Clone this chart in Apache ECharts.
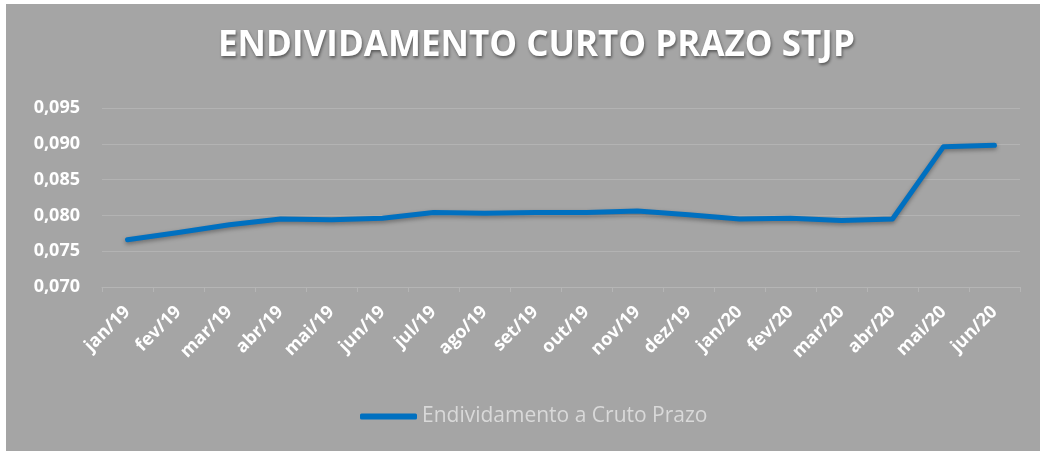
<!DOCTYPE html>
<html>
<head>
<meta charset="utf-8">
<script src="https://cdn.jsdelivr.net/npm/echarts@6/dist/echarts.min.js"></script>
<style>
  html, body { margin: 0; padding: 0; background: #fff; }
  #chart { position: absolute; left: 6px; top: 4px; width: 1034px; height: 447px; }
</style>
</head>
<body>
<div id="chart"></div>
<script>
var meses = ['jan/19', 'fev/19', 'mar/19', 'abr/19', 'mai/19', 'jun/19', 'jul/19', 'ago/19', 'set/19',
    'out/19', 'nov/19', 'dez/19', 'jan/20', 'fev/20', 'mar/20', 'abr/20', 'mai/20', 'jun/20'];
var endividamento = [0.0766, 0.0776, 0.0787, 0.0795, 0.0794, 0.0796, 0.0804, 0.0803, 0.0804,
    0.0804, 0.0806, 0.0801, 0.0795, 0.0796, 0.0793, 0.0795, 0.0896, 0.0898];
var serieNome = 'Endividamento a Cruto Prazo';

var myChart = echarts.init(document.getElementById('chart'));
myChart.setOption({
    backgroundColor: '#a5a5a5',
    title: {
        text: 'ENDIVIDAMENTO CURTO PRAZO STJP',
        left: 207,
        top: 20,
        textStyle: {
            color: '#ffffff',
            fontFamily: 'Open Sans',
            fontWeight: 'bold',
            fontSize: 35,
            textShadowColor: 'rgba(0,0,0,0.45)',
            textShadowBlur: 3,
            textShadowOffsetX: 1,
            textShadowOffsetY: 2
        }
    },
    legend: {
        data: [{ name: serieNome, icon: 'roundRect' }],
        left: 349,
        top: 397,
        itemWidth: 57,
        itemHeight: 6,
        textStyle: { color: '#d9d9d9', fontFamily: 'Open Sans', fontSize: 21 }
    },
    grid: { left: 96, right: 20, top: 104, bottom: 164 },
    xAxis: {
        type: 'category',
        data: meses,
        boundaryGap: true,
        axisLine: { lineStyle: { color: '#b5b5b5', width: 1 } },
        axisTick: { show: true, length: 5, lineStyle: { color: '#b5b5b5' } },
        axisLabel: {
            rotate: 45,
            interval: 0,
            margin: 22,
            color: '#ffffff',
            fontFamily: 'Open Sans',
            fontWeight: 'bold',
            fontSize: 18
        }
    },
    yAxis: {
        type: 'value',
        min: 0.070,
        max: 0.095,
        interval: 0.005,
        axisLine: { show: false },
        axisTick: { show: false },
        splitLine: { lineStyle: { color: '#b3b3b3', width: 1 } },
        axisLabel: {
            margin: 22,
            color: '#ffffff',
            fontFamily: 'Open Sans',
            fontWeight: 'bold',
            fontSize: 18,
            formatter: function (v) { return v.toFixed(3).replace('.', ','); }
        }
    },
    series: [
        {
            name: serieNome,
            type: 'line',
            data: endividamento,
            symbol: 'none',
            color: '#0070c0',
            lineStyle: {
                width: 5,
                cap: 'round',
                join: 'round',
                shadowColor: 'rgba(0,0,0,0.35)',
                shadowBlur: 4,
                shadowOffsetY: 2
            }
        }
    ]
});
</script>
</body>
</html>
